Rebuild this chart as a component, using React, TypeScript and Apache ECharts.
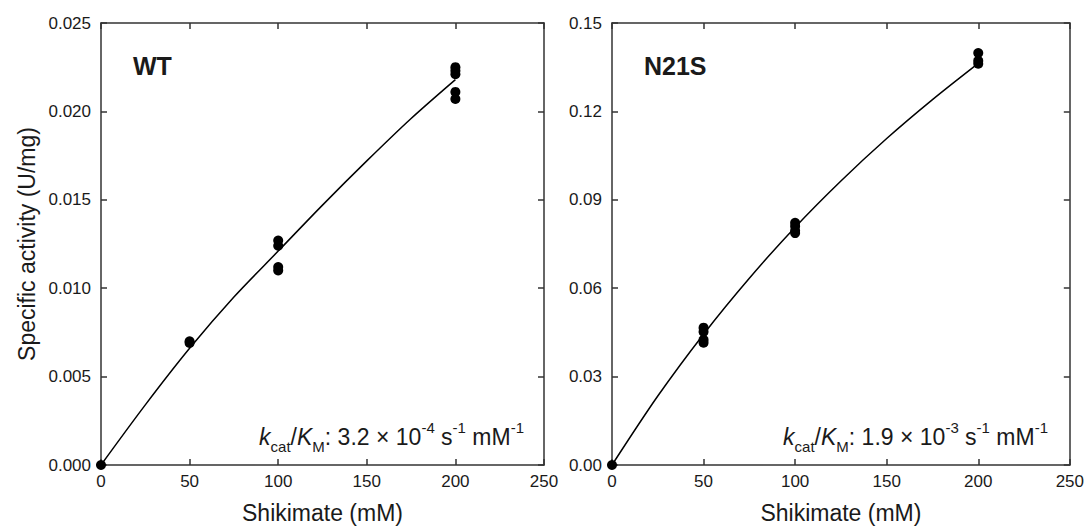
import React, { useEffect, useRef } from "react";
import * as echarts from "echarts";

// Measured data (substrate mM, specific activity U/mg)
const wtS = [0, 50, 50, 100, 100, 100, 100, 200, 200, 200, 200, 200];
const wtActivity = [0, 0.0070, 0.0069, 0.0127, 0.0124, 0.0112, 0.0110, 0.0225, 0.0223, 0.0221, 0.0211, 0.0207];
const n21sS = [0, 50, 50, 50, 50, 100, 100, 100, 100, 200, 200, 200];
const n21sActivity = [0, 0.0466, 0.0452, 0.0425, 0.0415, 0.0822, 0.0810, 0.0795, 0.0787, 0.1398, 0.1372, 0.1362];

// Fitted curves
const fitS = [0, 25, 50, 75, 100, 125, 150, 175, 200];
const wtFit = [0, 0.0034, 0.0066, 0.0095, 0.0121, 0.0147, 0.0172, 0.0196, 0.0218];
const n21sFit = [0, 0.0234, 0.0444, 0.0634, 0.0807, 0.0964, 0.1108, 0.1240, 0.1363];

const xTicks = [0, 50, 100, 150, 200, 250];
const wtYTicks = [0, 0.005, 0.01, 0.015, 0.02, 0.025];
const n21sYTicks = [0, 0.03, 0.06, 0.09, 0.12, 0.15];

const panelLabels = ["WT", "N21S"];
const wtKcatKm = { mant: "3.2", exp: "-4" };
const n21sKcatKm = { mant: "1.9", exp: "-3" };

const FONT = "Liberation Sans, Arial, sans-serif";
const AXIS_COLOR = "#333";
const TEXT_COLOR = "#1a1a1a";

function pair(xs: number[], ys: number[]) {
  return xs.map((x, i) => [x, ys[i]]);
}

function xAxes(gridIndex: number) {
  const base = {
    type: "value" as const,
    gridIndex,
    min: xTicks[0],
    max: xTicks[xTicks.length - 1],
    interval: xTicks[1] - xTicks[0],
    splitLine: { show: false },
    axisLine: { show: true, onZero: false, lineStyle: { color: AXIS_COLOR, width: 1.5 } },
    axisTick: { show: true, inside: true, length: 6, lineStyle: { color: AXIS_COLOR, width: 1.5 } },
  };
  return [
    {
      ...base,
      position: "bottom" as const,
      axisLabel: { color: TEXT_COLOR, fontSize: 17, fontFamily: FONT, margin: 8 },
      name: "Shikimate (mM)",
      nameLocation: "middle" as const,
      nameGap: 36,
      nameTextStyle: { color: TEXT_COLOR, fontSize: 23, fontFamily: FONT },
    },
    { ...base, position: "top" as const, axisLabel: { show: false } },
  ];
}

function yAxes(gridIndex: number, ticks: number[], decimals: number, withName: boolean) {
  const base = {
    type: "value" as const,
    gridIndex,
    min: ticks[0],
    max: ticks[ticks.length - 1],
    interval: ticks[1] - ticks[0],
    splitLine: { show: false },
    axisLine: { show: true, onZero: false, lineStyle: { color: AXIS_COLOR, width: 1.5 } },
    axisTick: { show: true, inside: true, length: 6, lineStyle: { color: AXIS_COLOR, width: 1.5 } },
  };
  return [
    {
      ...base,
      position: "left" as const,
      axisLabel: {
        color: TEXT_COLOR,
        fontSize: 17,
        fontFamily: FONT,
        margin: 10,
        formatter: (v: number) => v.toFixed(decimals),
      },
      ...(withName
        ? {
            name: "Specific activity (U/mg)",
            nameLocation: "middle" as const,
            nameGap: 63,
            nameTextStyle: { color: TEXT_COLOR, fontSize: 23, fontFamily: FONT },
          }
        : {}),
    },
    { ...base, position: "right" as const, axisLabel: { show: false } },
  ];
}

function kcatText(mant: string, exp: string, right: number) {
  return {
    type: "text",
    right,
    top: 420,
    style: {
      text: `{i|k}{sub|cat}{n|/}{i|K}{sub|M}{n|: ${mant} × 10}{sup|${exp}}{n| s}{sup|-1}{n| mM}{sup|-1}`,
      fill: TEXT_COLOR,
      font: `23px ${FONT}`,
      rich: {
        n: { fontSize: 23, fontFamily: FONT, fill: TEXT_COLOR, lineHeight: 34, verticalAlign: "middle" },
        i: { fontSize: 23, fontFamily: FONT, fontStyle: "italic", fill: TEXT_COLOR, lineHeight: 34, verticalAlign: "middle" },
        sub: { fontSize: 15, fontFamily: FONT, fill: TEXT_COLOR, lineHeight: 15, verticalAlign: "bottom" },
        sup: { fontSize: 15, fontFamily: FONT, fill: TEXT_COLOR, lineHeight: 15, verticalAlign: "top" },
      },
    },
  };
}

export default function App() {
  const ref = useRef<HTMLDivElement>(null);
  useEffect(() => {
    document.body.style.margin = "0";
    const chart = echarts.init(ref.current!, null, { renderer: "svg" });
    const scatterStyle = { color: "#000", opacity: 1 };
    chart.setOption({
      animation: false,
      backgroundColor: "#fff",
      grid: [
        { left: 101, top: 23, width: 443, height: 442 },
        { left: 612, top: 23, width: 458, height: 442 },
      ],
      xAxis: [...xAxes(0), ...xAxes(1)],
      yAxis: [...yAxes(0, wtYTicks, 3, true), ...yAxes(1, n21sYTicks, 2, false)],
      series: [
        {
          type: "line",
          xAxisIndex: 0,
          yAxisIndex: 0,
          data: pair(fitS, wtFit),
          smooth: 0.3,
          showSymbol: false,
          symbol: "none",
          lineStyle: { color: "#000", width: 1.5 },
        },
        {
          type: "scatter",
          xAxisIndex: 0,
          yAxisIndex: 0,
          data: pair(wtS, wtActivity),
          symbolSize: 10,
          itemStyle: scatterStyle,
          clip: false,
        },
        {
          type: "line",
          xAxisIndex: 2,
          yAxisIndex: 2,
          data: pair(fitS, n21sFit),
          smooth: 0.3,
          showSymbol: false,
          symbol: "none",
          lineStyle: { color: "#000", width: 1.5 },
        },
        {
          type: "scatter",
          xAxisIndex: 2,
          yAxisIndex: 2,
          data: pair(n21sS, n21sActivity),
          symbolSize: 10,
          itemStyle: scatterStyle,
          clip: false,
        },
      ],
      graphic: [
        {
          type: "text",
          left: 133,
          top: 53,
          style: { text: panelLabels[0], font: `bold 25px ${FONT}`, fill: TEXT_COLOR },
        },
        {
          type: "text",
          left: 644,
          top: 53,
          style: { text: panelLabels[1], font: `bold 25px ${FONT}`, fill: TEXT_COLOR },
        },
        kcatText(wtKcatKm.mant, wtKcatKm.exp, 1087 - 524),
        kcatText(n21sKcatKm.mant, n21sKcatKm.exp, 1087 - 1048),
      ],
    });
    return () => chart.dispose();
  }, []);
  return <div ref={ref} style={{ width: 1087, height: 530 }} />;
}
